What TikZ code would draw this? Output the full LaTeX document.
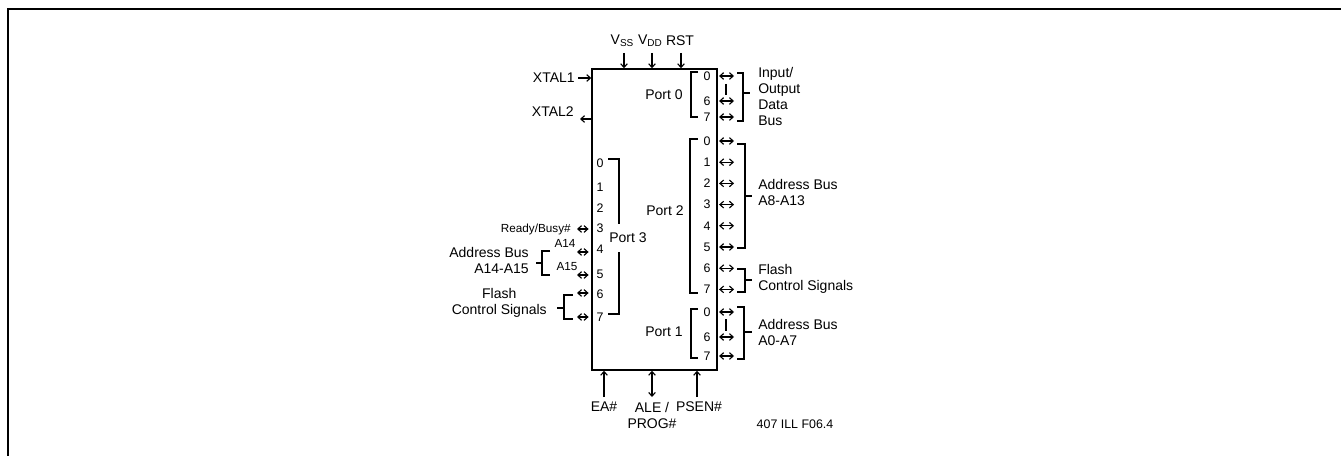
\documentclass[tikz,border=0pt]{standalone}
\usepackage{fontspec}
\setmainfont{Liberation Sans}
\usetikzlibrary{arrows.meta, positioning}
\newcommand{\lowsub}[1]{\raisebox{-0.3ex}{\fontsize{7.5}{8}\selectfont #1}}

\begin{document}
\begin{tikzpicture}[
  x=0.75pt, y=-0.75pt,
  lbl/.style={inner sep=0pt, font=\fontsize{10.5}{12}\selectfont},
  small/.style={inner sep=0pt, font=\fontsize{8.8}{10}\selectfont},
  num/.style={inner sep=0pt, font=\fontsize{9.3}{10}\selectfont},
  chip/.style={draw, line width=1.1pt, minimum width=93.75pt, minimum height=225.75pt, inner sep=0pt},
  pin/.style={-{Straight Barb[length=2.8pt,width=5pt]}, line width=0.85pt},
  sig/.style={{Straight Barb[length=2.8pt,width=5pt]}-{Straight Barb[length=2.8pt,width=5pt]}, line width=0.85pt},
  brk/.style={line width=0.85pt}
]
\useasboundingbox (0,0) rectangle (1341,456);
\draw[line width=1.2pt] (8,456) -- (8,9) -- (1341,9);

% the device
\node[chip] (chip) at (654.5,219.5) {};

% supply and reset
\node[lbl] (vss) at (622,41) {V\lowsub{SS}};
\node[lbl] (vdd) at (650,41) {V\lowsub{DD}};
\node[lbl] (rst) at (680,41) {RST};
\coordinate (vssp) at (624,53);
\coordinate (vddp) at (652,53);
\coordinate (rstp) at (681,53);
\draw[pin] (vssp) -- (vssp |- chip.north);
\draw[pin] (vddp) -- (vddp |- chip.north);
\draw[pin] (rstp) -- (rstp |- chip.north);

% clock
\node[lbl, anchor=east] (xtalone) at (575,78) {XTAL1};
\node[lbl, anchor=east] (xtaltwo) at (574,112) {XTAL2};
\coordinate (xtwop) at (580,119);
\draw[pin] (xtalone.east) ++(3,0) coordinate (xonep) -- (xonep -| chip.west);
\draw[pin] (xtwop -| chip.west) -- (xtwop);

% Port 0
\node[lbl] (pzero) at (664,95) {Port 0};
\foreach \i/\yy in {0/76,6/101,7/117} {
  \node[num] (pzero\i) at (707,\yy) {\i};
  \coordinate (pzeror\i) at (734,\yy);
  \draw[sig, shorten <=1pt] (pzeror\i -| chip.east) -- (pzeror\i);
}
\draw[brk] (698,72) -- (691,72) -- (691,117) -- (698,117);
\draw[brk] (726,84) -- (726,95);
\draw[brk] (737,73) -- (743,73) -- (743,121) -- (737,121);
\draw[brk] (743,93) -- (750,93);
\node[lbl, anchor=west, align=left] (iobus) at (758,96) {Input/\\Output\\Data\\Bus};

% Port 2
\node[lbl] (ptwo) at (665,211) {Port 2};
\foreach \i in {0,...,7} {
  \pgfmathsetmacro\yy{141+21.2*\i}
  \node[num] (ptwo\i) at (707,\yy) {\i};
  \coordinate (ptwor\i) at (734,\yy);
  \draw[sig, shorten <=1pt] (ptwor\i -| chip.east) -- (ptwor\i);
}
\draw[brk] (698,139) -- (690,139) -- (690,293) -- (698,293);
\draw[brk] (737,144) -- (745,144) -- (745,248) -- (737,248);
\draw[brk] (745,196) -- (752,196);
\node[lbl, anchor=west, align=left] (abushi) at (758,192) {Address Bus\\A8-A13};
\draw[brk] (737,269) -- (745,269) -- (745,292) -- (737,292);
\draw[brk] (745,280) -- (752,280);
\node[lbl, anchor=west, align=left] (flashr) at (758,279) {Flash\\Control Signals};

% Port 1
\node[lbl] (pone) at (664,332) {Port 1};
\foreach \i/\yy in {0/312,6/337,7/356} {
  \node[num] (pone\i) at (707,\yy) {\i};
  \coordinate (poner\i) at (734,\yy);
  \draw[sig, shorten <=1pt] (poner\i -| chip.east) -- (poner\i);
}
\draw[brk] (698,309) -- (691,309) -- (691,358) -- (698,358);
\draw[brk] (726,319) -- (726,331);
\draw[brk] (737,307) -- (744,307) -- (744,359) -- (737,359);
\draw[brk] (744,332) -- (752,332);
\node[lbl, anchor=west, align=left] (abuslo) at (758,332) {Address Bus\\A0-A7};

% Port 3
\foreach \i/\yy in {0/163,1/187,2/208,3/228,4/249,5/274,6/294,7/317}
  \node[num] (pthree\i) at (600,\yy) {\i};
\foreach \i/\yy in {3/229,4/252,5/275,6/293,7/317} {
  \coordinate (pthreel\i) at (577,\yy);
  \draw[sig, shorten >=2pt] (pthreel\i) -- (pthreel\i -| chip.west);
}
\draw[brk] (608,159) -- (619,159) -- (619,224);
\draw[brk] (619,252) -- (619,314) -- (608,314);
\node[lbl] (pthree) at (628,238) {Port 3};
\node[small, anchor=east] (rdy) at (571,229) {Ready/Busy\#};
\node[small] (afourteen) at (565,243) {A14};
\node[small] (afifteen) at (567,267) {A15};
\draw[brk] (550,251) -- (542,251) -- (542,275) -- (550,275);
\draw[brk] (542,263) -- (536,263);
\node[lbl, anchor=east, align=right] (abustop) at (529,260) {Address Bus\\A14-A15};
\draw[brk] (573,295) -- (564,295) -- (564,319) -- (573,319);
\draw[brk] (564,308) -- (557,308);
\node[lbl, anchor=east, align=center] (flashl) at (547,303) {Flash\\Control Signals};

% control pins
\coordinate (eap) at (604,397);
\coordinate (alep) at (652,397);
\coordinate (psenp) at (697,397);
\draw[pin] (eap) -- (eap |- chip.south);
\draw[sig] (alep |- chip.south) -- (alep);
\draw[pin] (psenp) -- (psenp |- chip.south);
\node[lbl] (ea) at (604,407) {EA\#};
\node[lbl, align=center] (ale) at (652,415) {ALE /\\PROG\#};
\node[lbl] (psen) at (699,407) {PSEN\#};
\node[num] (figid) at (795,424) {407 ILL F06.4};
\end{tikzpicture}
\end{document}
